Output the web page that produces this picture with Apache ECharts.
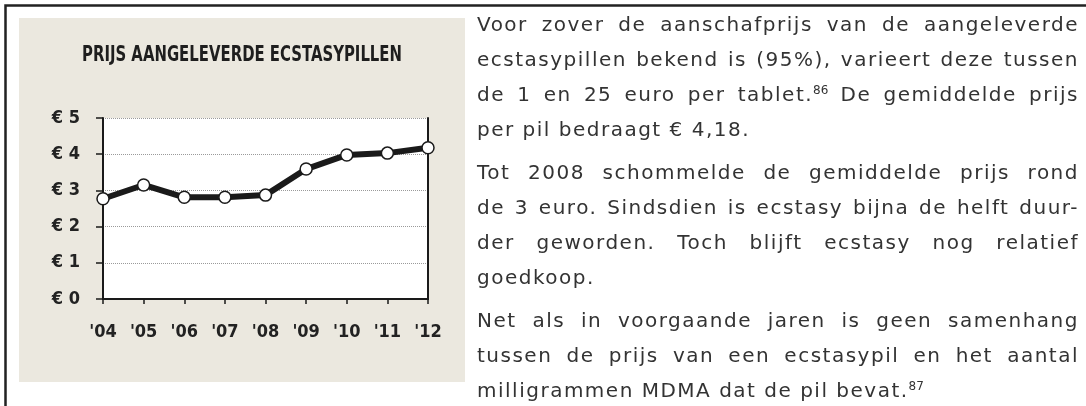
<!DOCTYPE html>
<html>
<head>
<meta charset="utf-8">
<script src="https://cdn.jsdelivr.net/npm/echarts@6/dist/echarts.min.js"></script>
<style>
  html, body { margin: 0; padding: 0; background: #fff; }
  #page { position: relative; width: 1086px; height: 406px; overflow: hidden; }
  #chart { position: absolute; left: 0; top: 0; width: 1086px; height: 406px; }
  #copy {
    position: absolute; left: 477px; top: 7px; width: 602px;
    font-family: "DejaVu Sans", sans-serif; font-size: 20px; color: #333;
    letter-spacing: 1.5px; word-spacing: 0;
  }
  #copy .ln { height: 35px; line-height: 35px; white-space: nowrap; text-align: justify; text-align-last: justify; }
  #copy .ln.end { text-align-last: left; }
  #copy .gap { height: 8px; }
  #copy sup { font-size: 12px; line-height: 0; vertical-align: 7px; letter-spacing: 0; }
</style>
</head>
<body>
<div id="page">
  <div id="chart"></div>
  <div id="copy"></div>
</div>
<script>
// Average purchase price per ecstasy pill, 2004-2012 (euro)
const years = ["'04", "'05", "'06", "'07", "'08", "'09", "'10", "'11", "'12"];
const prices = [2.77, 3.15, 2.81, 2.81, 2.87, 3.59, 3.98, 4.03, 4.18];
const yMin = 0, yMax = 5, yStep = 1;
const chartTitle = 'PRIJS AANGELEVERDE ECSTASYPILLEN';

// Body text, one entry per printed line; null marks a paragraph break,
// a trailing "|" marks the last line of a paragraph, [n] is a footnote.
const copyLines = [
  'Voor zover de aanschafprijs van de aangeleverde',
  'ecstasypillen bekend is (95%), varieert deze tussen',
  'de 1 en 25 euro per tablet.[86] De gemiddelde prijs',
  'per pil bedraagt € 4,18.|',
  null,
  'Tot 2008 schommelde de gemiddelde prijs rond',
  'de 3 euro. Sindsdien is ecstasy bijna de helft duur-',
  'der geworden. Toch blijft ecstasy nog relatief',
  'goedkoop.|',
  null,
  'Net als in voorgaande jaren is geen samenhang',
  'tussen de prijs van een ecstasypil en het aantal',
  'milligrammen MDMA dat de pil bevat.[87]|'
];

const copy = document.getElementById('copy');
copyLines.forEach(function (line) {
  const el = document.createElement('div');
  if (line === null) { el.className = 'gap'; copy.appendChild(el); return; }
  let txt = line;
  el.className = 'ln';
  if (txt.endsWith('|')) { el.classList.add('end'); txt = txt.slice(0, -1); }
  txt.split(/(\[\d+\])/).forEach(function (part) {
    if (!part) return;
    const m = part.match(/^\[(\d+)\]$/);
    if (m) {
      const s = document.createElement('sup');
      s.textContent = m[1];
      el.appendChild(s);
    } else {
      el.appendChild(document.createTextNode(part));
    }
  });
  copy.appendChild(el);
});

// Condensed bold heading: squeeze the text to the heading width
const headFont = 'bold 21px "DejaVu Sans Condensed"';
const ctx = document.createElement('canvas').getContext('2d');
ctx.font = headFont;
const headScale = 320 / ctx.measureText(chartTitle).width;

const ink = '#1a1a1a';
const labelFont = { fontFamily: '"DejaVu Sans Condensed", sans-serif', fontWeight: 'bold', fontSize: 18, color: '#222' };

const chart = echarts.init(document.getElementById('chart'), null, { renderer: 'canvas' });
chart.setOption({
  animation: false,
  backgroundColor: '#ffffff',
  graphic: [
    { type: 'rect', z: -10, shape: { x: 19, y: 18, width: 446, height: 364 }, style: { fill: '#ebe8df' } },
    { type: 'rect', z: -9, shape: { x: 5.5, y: 5.5, width: 1200, height: 600 }, style: { fill: null, stroke: '#222', lineWidth: 2.5 } },
    {
      type: 'text', x: 242, y: 56, scaleX: headScale,
      style: { text: chartTitle, font: headFont, fill: '#1e1e1e', textAlign: 'center', textVerticalAlign: 'middle' }
    }
  ],
  grid: { left: 103, top: 118, right: 658, bottom: 107, show: true, backgroundColor: '#ffffff', borderWidth: 0 },
  xAxis: [
    {
      type: 'category', data: years, boundaryGap: false, z: 3,
      axisLine: { lineStyle: { color: ink, width: 2 } },
      axisTick: { show: true, length: 5, lineStyle: { color: ink, width: 1.5 } },
      axisLabel: Object.assign({ margin: 24 }, labelFont),
      splitLine: { show: false }
    },
    {
      type: 'category', data: years, boundaryGap: false, position: 'top', z: 3,
      axisLine: { lineStyle: { color: ink, width: 2 } },
      axisTick: { show: false }, axisLabel: { show: false }, splitLine: { show: false }
    }
  ],
  yAxis: [
    {
      type: 'value', min: yMin, max: yMax, interval: yStep, z: 3,
      axisLine: { show: true, lineStyle: { color: ink, width: 2 } },
      axisTick: { show: true, length: 7, lineStyle: { color: ink, width: 1.5 } },
      axisLabel: Object.assign({ margin: 23, formatter: function (v) { return '€ ' + v; } }, labelFont),
      splitLine: { show: true, lineStyle: { color: '#9a9a9a', width: 1, type: [1, 1] } }
    },
    {
      type: 'value', min: yMin, max: yMax, interval: yStep, position: 'right', z: 3,
      axisLine: { show: true, lineStyle: { color: ink, width: 2 } },
      axisTick: { show: false }, axisLabel: { show: false }, splitLine: { show: false }
    }
  ],
  series: [
    {
      type: 'line', data: prices, xAxisIndex: 0, yAxisIndex: 0, z: 5, clip: false,
      lineStyle: { color: ink, width: 6 },
      symbol: 'circle', symbolSize: 12,
      itemStyle: { color: '#ffffff', borderColor: ink, borderWidth: 1.5 }
    }
  ]
});
</script>
</body>
</html>
